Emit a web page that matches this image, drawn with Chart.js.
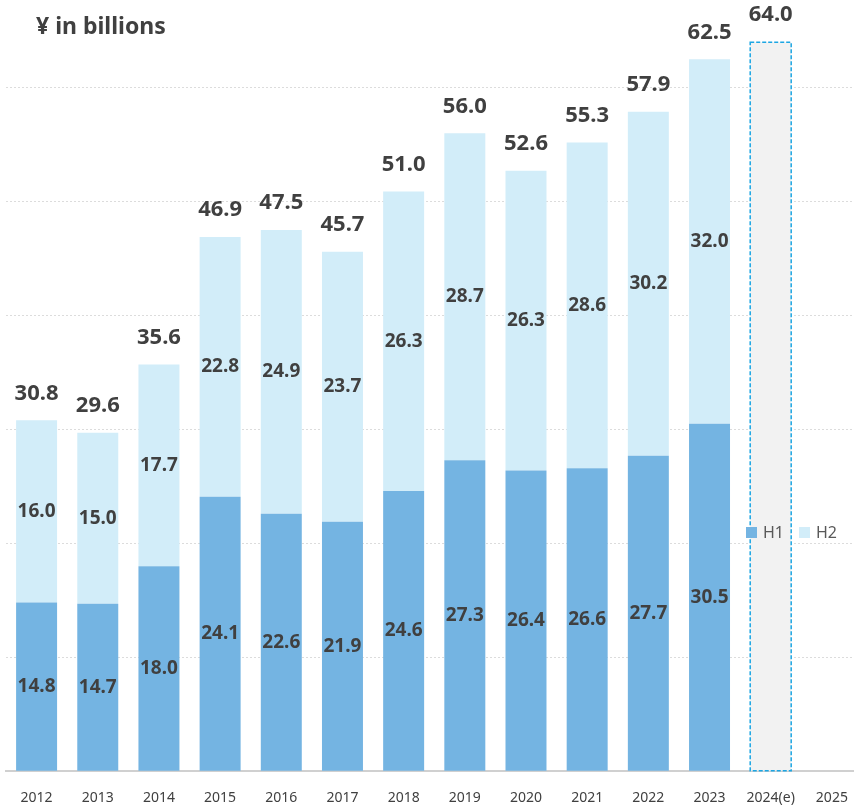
<!DOCTYPE html>
<html>
<head>
<meta charset="utf-8">
<script src="https://cdn.jsdelivr.net/npm/chart.js@4.4.1/dist/chart.umd.min.js"></script>
<style>
  html, body { margin: 0; padding: 0; overflow: hidden; background: #fff; }
  #wrap { position: relative; width: 866px; height: 824px; }
  #title { position: absolute; left: 36px; top: 9px; font: bold 23px "Noto Sans", sans-serif; color: #404040; }
  #legend { position: absolute; left: 746px; top: 521px; font: 16px "Noto Sans", sans-serif; color: #595959; display: flex; align-items: center; }
  .sw { display: inline-block; width: 11px; height: 11px; margin-right: 6px; }
</style>
</head>
<body>
<div id="wrap">
  <canvas id="chart" width="866" height="824"></canvas>
  <div id="title">¥ in billions</div>
  <div id="legend">
    <span class="sw" style="background:#74B4E2"></span><span style="margin-right:15px">H1</span>
    <span class="sw" style="background:#D2EDF9"></span><span>H2</span>
  </div>
</div>
<script>
const years = ['2012', '2013', '2014', '2015', '2016', '2017', '2018', '2019', '2020', '2021', '2022', '2023', '2024(e)', '2025'];
const h1 = [14.8, 14.7, 18.0, 24.1, 22.6, 21.9, 24.6, 27.3, 26.4, 26.6, 27.7, 30.5, null, null];
const h2 = [16.0, 15.0, 17.7, 22.8, 24.9, 23.7, 26.3, 28.7, 26.3, 28.6, 30.2, 32.0, null, null];
const estimate = [null, null, null, null, null, null, null, null, null, null, null, null, 64.0, null];
const totals = [30.8, 29.6, 35.6, 46.9, 47.5, 45.7, 51.0, 56.0, 52.6, 55.3, 57.9, 62.5, 64.0, null];

const textColor = '#404040';

// value labels + dashed outline for the estimate bar
const labelPlugin = {
  id: 'labels',
  afterDatasetsDraw(chart) {
    const ctx = chart.ctx;
    const estMeta = chart.getDatasetMeta(2);
    ctx.save();

    estMeta.data.forEach((bar, i) => {
      if (estimate[i] == null) return;
      const left = bar.x - bar.width / 2;
      ctx.strokeStyle = '#1CA6E3';
      ctx.lineWidth = 1.5;
      ctx.setLineDash([4, 2]);
      ctx.strokeRect(left, bar.y, bar.width, bar.base - bar.y);
    });
    ctx.setLineDash([]);

    ctx.fillStyle = textColor;
    ctx.textAlign = 'center';
    ctx.textBaseline = 'middle';
    ctx.font = 'bold 19px "Noto Sans", sans-serif';
    [0, 1].forEach(d => {
      const values = chart.data.datasets[d].data;
      chart.getDatasetMeta(d).data.forEach((bar, i) => {
        if (values[i] == null) return;
        ctx.fillText(values[i].toFixed(1), bar.x, (bar.y + bar.base) / 2);
      });
    });

    ctx.font = 'bold 22px "Noto Sans", sans-serif';
    const topMeta = chart.getDatasetMeta(1);
    totals.forEach((t, i) => {
      if (t == null) return;
      const bar = h2[i] != null ? topMeta.data[i] : estMeta.data[i];
      ctx.fillText(t.toFixed(1), bar.x, bar.y - 27);
    });
    ctx.restore();
  }
};

new Chart(document.getElementById('chart'), {
  type: 'bar',
  data: {
    labels: years,
    datasets: [
      { label: 'H1', data: h1, backgroundColor: '#74B4E2' },
      { label: 'H2', data: h2, backgroundColor: '#D2EDF9' },
      { label: 'Estimate', data: estimate, backgroundColor: '#F2F2F2' }
    ]
  },
  options: {
    responsive: false,
    animation: false,
    barPercentage: 0.67,
    categoryPercentage: 1,
    layout: { padding: { left: 6, right: 3, top: 0, bottom: 0 } },
    plugins: {
      legend: { display: false },
      tooltip: { enabled: false }
    },
    scales: {
      x: {
        stacked: true,
        grid: { display: false, drawTicks: false },
        border: { color: '#d0d0d0', width: 2 },
        ticks: {
          color: textColor,
          font: { family: 'Noto Sans', size: 14 },
          padding: 18,
          maxRotation: 0,
          autoSkip: false
        }
      },
      y: {
        stacked: true,
        min: 0,
        max: 67.7,
        afterBuildTicks: scale => {
          scale.ticks = scale.ticks.filter(t => t.value % 10 === 0);
        },
        ticks: { display: false, stepSize: 10 },
        border: { display: false, dash: [2, 2] },
        grid: {
          drawTicks: false,
          color: ctx => (ctx.tick && ctx.tick.value === 0 ? 'rgba(0,0,0,0)' : '#dcdcdc')
        }
      }
    }
  },
  plugins: [labelPlugin]
});
</script>
</body>
</html>
